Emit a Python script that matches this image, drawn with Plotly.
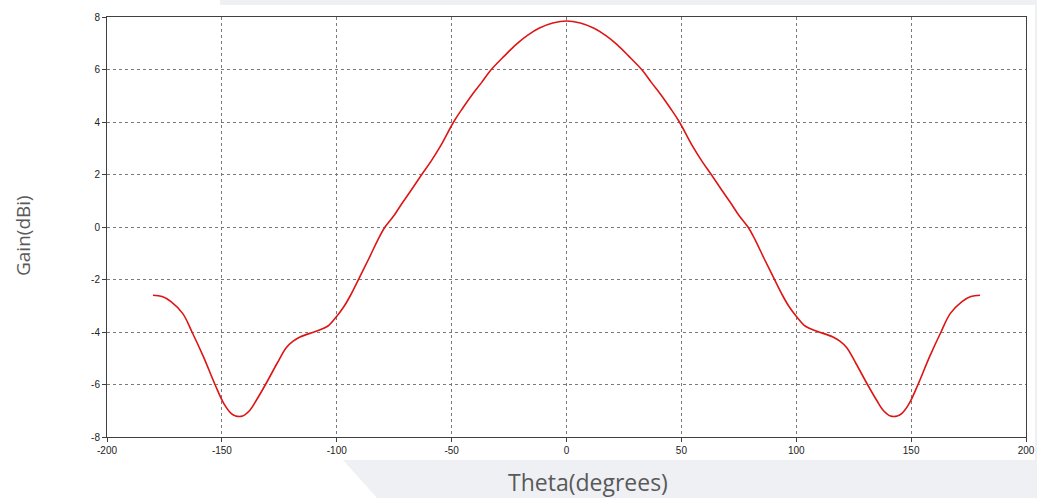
import plotly.graph_objects as go

theta = [-180, -176, -172, -167, -163, -158, -153, -149, -146, -144, -141, -138, -135, -131,
         -126, -122, -119, -116, -109, -104, -100, -97, -94, -91, -86, -82, -79, -75, -72, -68, -63,
         -59, -55, -49, -45, -41, -37, -33, -27, -22, -17, -12, -6, 0,
         6, 12, 17, 22, 27, 33, 37, 41, 45, 49, 55, 59, 63, 68, 72, 75, 79, 82, 86, 91, 94,
         97, 100, 104, 109, 116, 119, 122, 126, 131, 135, 138, 141, 144, 146, 149, 153, 158, 163,
         167, 172, 176, 180]
gain = [-2.6, -2.65, -2.85, -3.3, -4.0, -4.95, -6.0, -6.75, -7.1, -7.2, -7.2, -7.0, -6.6, -6.0,
        -5.2, -4.6, -4.35, -4.19, -3.97, -3.78, -3.4, -3.05, -2.6, -2.08, -1.2, -0.47, 0.0, 0.45, 0.85, 1.35, 2.0,
        2.5, 3.06, 4.02, 4.55, 5.05, 5.5, 5.97, 6.52, 6.95, 7.3, 7.57, 7.77, 7.85,
        7.77, 7.57, 7.3, 6.95, 6.52, 5.97, 5.5, 5.05, 4.55, 4.02, 3.06, 2.5, 2.0, 1.35, 0.85, 0.45, 0.0, -0.47, -1.2, -2.08, -2.6,
        -3.05, -3.4, -3.78, -3.97, -4.19, -4.35, -4.6, -5.2, -6.0, -6.6, -7.0, -7.2, -7.2, -7.1, -6.75, -6.0, -4.95, -4.0,
        -3.3, -2.85, -2.65, -2.6]

x_tickvals = [-200, -150, -100, -50, 0, 50, 100, 150, 200]
x_ticktext = ["-200", "-150", "-100", "-50", "0", "50", "100", "150", "200"]
y_tickvals = [-8, -6, -4, -2, 0, 2, 4, 6, 8]
y_ticktext = ["-8", "-6", "-4", "-2", "0", "2", "4", "6", "8"]

W, H = 1037, 498
L, R, T, B = 107, 11, 17, 61
PW, PH = W - L - R, H - T - B


def px(x):
    return (x - L) / PW


def py(y):
    return (H - B - y) / PH


fig = go.Figure()
fig.add_trace(go.Scatter(x=theta, y=gain, mode="lines",
                         line=dict(color="#dd1515", width=1.6, shape="spline", smoothing=1.0),
                         showlegend=False, hoverinfo="x+y"))

gray = "#eff0f4"
shapes = [
    dict(type="rect", xref="paper", yref="paper", x0=px(220), x1=px(1037), y0=py(0), y1=py(5),
         fillcolor=gray, line=dict(width=0), layer="below"),
    dict(type="rect", xref="paper", yref="paper", x0=px(1035), x1=px(1037), y0=py(0), y1=py(498),
         fillcolor=gray, line=dict(width=0), layer="below"),
    dict(type="path", xref="paper", yref="paper",
         path=f"M {px(343)},{py(460)} L {px(1037)},{py(460)} L {px(1037)},{py(498)} L {px(377)},{py(498)} Z",
         fillcolor=gray, line=dict(width=0), layer="below"),
]

axis_common = dict(
    showline=True, linecolor="#404040", linewidth=1, mirror=True,
    showgrid=True, gridcolor="#7a7a7a", gridwidth=1, griddash="dot",
    zeroline=False, ticks="outside", ticklen=4, tickcolor="#404040",
    automargin=False,
    tickfont=dict(family="Liberation Sans, DejaVu Sans, sans-serif", size=10, color="#222222"),
)

fig.update_layout(
    width=W, height=H,
    margin=dict(l=L, r=R, t=T, b=B, autoexpand=False),
    paper_bgcolor="white", plot_bgcolor="white",
    shapes=shapes,
    xaxis=dict(range=[-200, 200], tickvals=x_tickvals, ticktext=x_ticktext, **axis_common),
    yaxis=dict(range=[-8, 8], tickvals=y_tickvals, ticktext=y_ticktext, **axis_common),
    annotations=[
        dict(text="Theta(degrees)", xref="paper", yref="paper", x=px(588), y=py(482),
             showarrow=False, xanchor="center", yanchor="middle",
             font=dict(family="Open Sans, Noto Sans, sans-serif", size=23, color="#595959")),
        dict(text="Gain(dBi)", xref="paper", yref="paper", x=px(23), y=py(236),
             showarrow=False, xanchor="center", yanchor="middle", textangle=-90,
             font=dict(family="Open Sans, Noto Sans, sans-serif", size=19, color="#595959")),
    ],
)

fig.write_html("out.html", config={"displayModeBar": False},
               post_script="document.body.style.margin='0';document.body.style.padding='0';document.body.style.overflow='hidden';")
